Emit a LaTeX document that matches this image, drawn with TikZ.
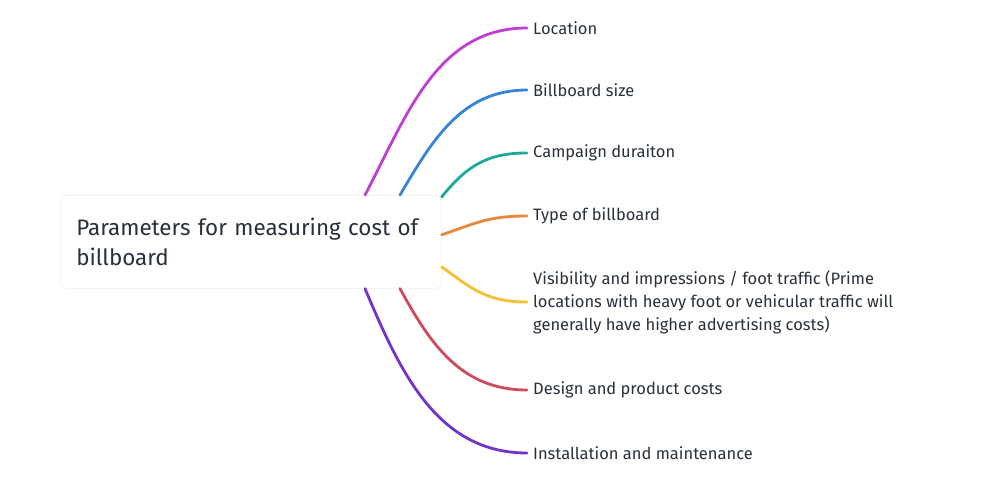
\documentclass[tikz,border=0pt]{standalone}
\usepackage{fontspec}
\setmainfont{Fira Sans}
\usepackage{tikz}
\usetikzlibrary{positioning, calc}
\definecolor{inktext}{RGB}{40, 48, 60}
\definecolor{cmagenta}{RGB}{191, 64, 208}
\definecolor{cblue}{RGB}{53, 132, 216}
\definecolor{cteal}{RGB}{32, 168, 152}
\definecolor{corange}{RGB}{232, 136, 58}
\definecolor{cyellow}{RGB}{242, 194, 48}
\definecolor{cred}{RGB}{208, 74, 94}
\definecolor{cviolet}{RGB}{114, 51, 200}

\begin{document}
\begin{tikzpicture}[
      x=1pt, y=-1pt,
      rootbox/.style={rectangle, rounded corners=6pt, draw=black!6, fill=white,
                  line width=0.6pt, minimum width=381pt, minimum height=93pt,
                  text width=349pt, inner xsep=16pt, align=left,
                  font=\fontsize{22.4}{30}\selectfont, text=inktext},
      leaf/.style={anchor=west, inner xsep=6pt, inner ysep=0pt, align=left,
                  font=\fontsize{16.5}{23}\selectfont, text=inktext},
      link/.style={line width=2.8pt, line cap=round}
    ]
    \useasboundingbox (0,0) rectangle (1004,478);
    \node[rootbox, anchor=north west] (root) at (60,195)
      {Parameters for measuring cost of\\billboard};
    \node[leaf] (l1) at (527,28) {Location};
    \node[leaf] (l2) at (527,90) {Billboard size};
    \node[leaf] (l3) at (527,153) {Campaign duraiton};
    \node[leaf] (l4) at (527,216) {Type of billboard};
    \node[leaf] (l5) at (527,302)
      {Visibility and impressions / foot traffic (Prime\\locations with heavy foot or vehicular traffic will\\generally have higher advertising costs)};
    \node[leaf] (l6) at (527,390) {Design and product costs};
    \node[leaf] (l7) at (527,453) {Installation and maintenance};
    \draw[link, cmagenta] ([xshift=305pt]root.north west) .. controls +(42,-80) and +(-90,0) .. (l1.west);
    \draw[link, cblue] ([xshift=340pt]root.north west) .. controls +(33,-56) and +(-65,0) .. (l2.west);
    \draw[link, cteal] ([yshift=-2pt]root.north east) .. controls +(25,-31) and +(-40,0) .. (l3.west);
    \draw[link, corange] ([yshift=7pt]root.east) .. controls +(33,-11) and +(-40,0) .. (l4.west);
    \draw[link, cyellow] ([yshift=-25pt]root.east) .. controls +(30,22) and +(-40,0) .. (l5.west);
    \draw[link, cred] ([xshift=340pt]root.south west) .. controls +(31,57) and +(-65,0) .. (l6.west);
    \draw[link, cviolet] ([xshift=305pt]root.south west) .. controls +(35,83) and +(-90,0) .. (l7.west);
  \end{tikzpicture}
\end{document}
